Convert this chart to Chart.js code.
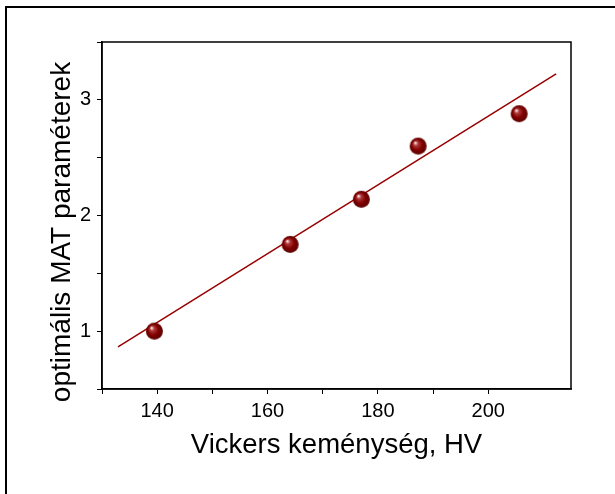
<!DOCTYPE html>
<html>
<head>
<meta charset="utf-8">
<script src="https://cdn.jsdelivr.net/npm/chart.js@4"></script>
<style>
  body { margin: 0; background: #fff; overflow: hidden; }
  #wrap { position: relative; width: 615px; height: 494px; }
  #frame { position: absolute; left: 5px; top: 6px; width: 700px; height: 600px;
           border-left: 2px solid #000; border-top: 2px solid #000; }
  canvas { position: absolute; left: 0; top: 0; }
</style>
</head>
<body>
<div id="wrap">
  <div id="frame"></div>
  <canvas id="chart" width="615" height="494"></canvas>
</div>
<script>
// mérési pontok
const hv = [139.5, 164.1, 177.0, 187.3, 205.6];
const matParam = [1.0, 1.75, 2.14, 2.60, 2.88];
// illesztett egyenes végpontjai
const fitX = [132.9, 212.3];
const fitY = [0.864, 3.225];

const xTickLabels = [140, 160, 180, 200];
const yTickLabels = [1, 2, 3];

const font = 'Liberation Sans, Arial, sans-serif';

// gömb alakú jelölő
function gomb(r) {
    const c = document.createElement('canvas');
    c.width = c.height = r * 2 + 2;
    const g = c.getContext('2d');
    const cx = r + 1, cy = r + 1;
    const grad = g.createRadialGradient(cx - r * 0.35, cy - r * 0.4, 0.5, cx, cy, r);
    grad.addColorStop(0, '#f6e4e4');
    grad.addColorStop(0.22, '#b03a3a');
    grad.addColorStop(0.6, '#820000');
    grad.addColorStop(1, '#5a0000');
    g.fillStyle = grad;
    g.beginPath();
    g.arc(cx, cy, r, 0, Math.PI * 2);
    g.fill();
    return c;
}

// keret a rajzterület körül + függőleges tengelyfelirat
const keret = {
    id: 'keret',
    afterDraw(chart) {
        const {ctx, chartArea: a} = chart;
        ctx.save();
        ctx.strokeStyle = '#000';
        ctx.lineWidth = 1.5;
        ctx.strokeRect(a.left, a.top, a.right - a.left, a.bottom - a.top);

        ctx.translate(70, 232);
        ctx.rotate(-Math.PI / 2);
        ctx.fillStyle = '#000';
        ctx.font = '28px ' + font;
        ctx.textAlign = 'center';
        ctx.textBaseline = 'alphabetic';
        ctx.fillText('optimális MAT paraméterek', 0, 0);
        ctx.restore();
    }
};

new Chart(document.getElementById('chart'), {
    type: 'scatter',
    data: {
        datasets: [{
            data: hv.map((x, i) => ({x: x, y: matParam[i]})),
            pointStyle: gomb(8.5),
            pointRadius: 9,
            order: 1
        }, {
            data: fitX.map((x, i) => ({x: x, y: fitY[i]})),
            showLine: true,
            borderColor: '#990000',
            borderWidth: 1.5,
            pointRadius: 0,
            order: 2
        }]
    },
    options: {
        responsive: false,
        animation: false,
        layout: { padding: { left: 0, top: 42, right: 44, bottom: 0 } },
        plugins: { legend: { display: false }, tooltip: { enabled: false } },
        scales: {
            x: {
                type: 'linear',
                min: 130, max: 215,
                afterFit(s) { s.height = 105; },
                afterBuildTicks(s) { s.ticks = s.ticks.filter(t => t.value % 10 === 0); },
                ticks: {
                    stepSize: 10,
                    autoSkip: false,
                    maxRotation: 0,
                    padding: 5,
                    color: '#000',
                    font: { family: font, size: 20 },
                    callback: v => xTickLabels.includes(v) ? String(v) : ''
                },
                grid: { drawOnChartArea: false, tickLength: 5, color: '#000', tickColor: '#000' },
                border: { color: '#000', width: 1.5 },
                title: {
                    display: true,
                    text: 'Vickers keménység, HV',
                    color: '#000',
                    font: { family: font, size: 27.5 },
                    padding: { top: 0, bottom: 32 }
                }
            },
            y: {
                type: 'linear',
                min: 0.5, max: 3.5,
                afterFit(s) { s.width = 102; },
                afterBuildTicks(s) { s.ticks = s.ticks.filter(t => Math.abs(t.value * 2 - Math.round(t.value * 2)) < 1e-6); },
                ticks: {
                    stepSize: 0.5,
                    autoSkip: false,
                    padding: 6,
                    color: '#000',
                    font: { family: font, size: 20 },
                    callback: v => yTickLabels.includes(v) ? String(v) : ''
                },
                grid: { drawOnChartArea: false, tickLength: 5, color: '#000', tickColor: '#000' },
                border: { color: '#000', width: 1.5 }
            }
        }
    },
    plugins: [keret]
});
</script>
</body>
</html>
